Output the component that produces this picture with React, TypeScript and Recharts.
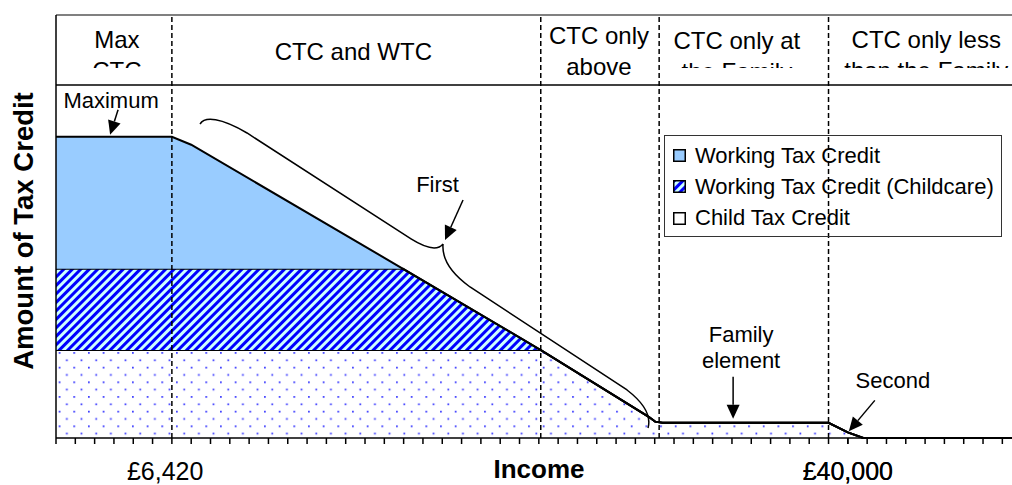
import { Area, AreaChart, Legend, ReferenceArea, ReferenceDot, ReferenceLine, XAxis, YAxis } from "recharts"

// income steps along the x axis (axis tick units) and the three stacked credits
const income = [0, 6, 7, 17.97, 25.1, 30.67, 31.02, 31.4, 40, 41, 41.8, 49.5]
const childTaxCredit = [1.56, 1.56, 1.56, 1.56, 1.56, 0.38, 0.29, 0.27, 0.27, 0.1, 0, 0]
const childcareCredit = [1.44, 1.44, 1.44, 1.44, 0, 0, 0, 0, 0, 0, 0, 0]
const workingTaxCredit = [2.34, 2.34, 2.2, 0, 0, 0, 0, 0, 0, 0, 0, 0]

const phaseBounds = [0, 6, 25.1, 31.23, 40, 49.5]
const phaseLabels = [
  ["Max", "CTC"],
  ["CTC and WTC"],
  ["CTC only", "above"],
  ["CTC only at", "the Family"],
  ["CTC only less", "than the Family"],
]
const xTickMarks = [
  0, 1, 2, 3, 4, 5, 6, 7, 8, 9, 10, 11, 12, 13, 14, 15, 16, 17, 18, 19, 20, 21, 22, 23, 24,
  25, 26, 27, 28, 29, 30, 31, 32, 33, 34, 35, 36, 37, 38, 39, 40, 41, 42, 43, 44, 45, 46, 47, 48, 49,
]
const xTickLabels = [
  { at: 5.65, text: "£6,420" },
  { at: 41, text: "£40,000" },
]
const yTicks = [0, 1, 2, 3, 4, 5, 6, 7]
const legendLabels = ["Working Tax Credit", "Working Tax Credit (Childcare)", "Child Tax Credit"]

const data = income.map((x, i) => ({
  income: x,
  ctc: childTaxCredit[i],
  childcare: childcareCredit[i],
  wtc: workingTaxCredit[i],
}))

const FONT = "'Liberation Sans', Arial, sans-serif"
const HEADER_FLOOR = 6.26

// per-column text placement inside the header strip
const headerLayout = [
  { base: 33, clip: 53, dx: 3 },
  { base: 45, clip: 70, dx: -3 },
  { base: 28.5, clip: 70, dx: -1 },
  { base: 33.5, clip: 53, dx: -7 },
  { base: 33, clip: 53, dx: 6 },
]

function Arrow({ x1, y1, x2, y2 }: { x1: number; y1: number; x2: number; y2: number }) {
  const a = Math.atan2(y2 - y1, x2 - x1)
  const len = 14
  const w = 6.5
  const bx = x2 - len * Math.cos(a)
  const by = y2 - len * Math.sin(a)
  const px = -Math.sin(a) * w
  const py = Math.cos(a) * w
  return (
    <g>
      <line x1={x1} y1={y1} x2={bx} y2={by} stroke="#000" strokeWidth={1.5} />
      <polygon points={`${x2},${y2} ${bx + px},${by + py} ${bx - px},${by - py}`} fill="#000" />
    </g>
  )
}

function Note({ x, y, lines }: { x: number; y: number; lines: string[] }) {
  return (
    <text x={x} y={y} textAnchor="middle" fontSize={22} fontFamily={FONT} fill="#000">
      {lines.map((t, i) => (
        <tspan key={i} x={x} dy={i === 0 ? 0 : 26.5}>
          {t}
        </tspan>
      ))}
    </text>
  )
}

const headerLabel = (i: number) => (props: any) => {
  const vb = props.viewBox
  const l = headerLayout[i]
  const id = `hdr-clip-${i}`
  const cx = vb.x + vb.width / 2 + l.dx
  return (
    <g>
      <defs>
        <clipPath id={id}>
          <rect x={vb.x} y={vb.y} width={vb.width} height={l.clip} />
        </clipPath>
      </defs>
      <text clipPath={`url(#${id})`} textAnchor="middle" fontSize={24} fontFamily={FONT} fill="#000">
        {phaseLabels[i].map((t, j) => (
          <tspan key={j} x={cx} y={vb.y + l.base + j * 31}>
            {t}
          </tspan>
        ))}
      </text>
    </g>
  )
}

function IncomeTick(props: any) {
  const { x, y, payload } = props
  const v = payload.value
  const label = xTickLabels.find((l) => l.at === v)
  return (
    <g>
      {Number.isInteger(v) && <line x1={x} x2={x} y1={y} y2={y + 6} stroke="#000" strokeWidth={1.5} />}
      {label && (
        <text x={x} y={y + 41.5} textAnchor="middle" fontSize={25} fontFamily={FONT} fill="#000">
          {label.text}
        </text>
      )}
    </g>
  )
}

function LegendSwatch({ fill }: { fill: string }) {
  return (
    <svg width={13} height={13} style={{ display: "block", marginRight: 9 }}>
      <rect x={0.75} y={0.75} width={11.5} height={11.5} fill={fill} stroke="#000" strokeWidth={1.5} />
    </svg>
  )
}

function LegendBox() {
  const fills = ["#99ccff", "url(#childcareStripes)", "#ffffff"]
  return (
    <div
      style={{
        boxSizing: "border-box",
        width: 338,
        height: 102,
        border: "1px solid #333",
        padding: "4px 0 0 8px",
        fontFamily: FONT,
        fontSize: 22,
        color: "#000",
      }}
    >
      {legendLabels.map((t, i) => (
        <div key={t} style={{ display: "flex", alignItems: "center", height: 31.3, whiteSpace: "nowrap" }}>
          <LegendSwatch fill={fills[i]} />
          <span>{t}</span>
        </div>
      ))}
    </div>
  )
}

export default function App() {
  return (
    <div style={{ position: "absolute", left: 0, top: 0, width: 1012, height: 485, fontFamily: FONT }}>
      <svg width={0} height={0} style={{ position: "absolute" }}>
        <defs>
          <pattern id="childcareStripes" width={6} height={6} patternUnits="userSpaceOnUse" patternTransform="rotate(45)">
            <rect width={6} height={6} fill="#ccffff" />
            <rect width={3} height={6} fill="#0000ff" />
          </pattern>
          <pattern id="ctcDots" width={14.67} height={14.67} patternUnits="userSpaceOnUse">
            <rect width={14.67} height={14.67} fill="#ffffff" />
            <rect x={0} y={0} width={1.7} height={1.7} fill="#3030ff" />
            <rect x={7.33} y={7.33} width={1.7} height={1.7} fill="#3030ff" />
          </pattern>
        </defs>
      </svg>
      <AreaChart width={1012} height={485} data={data} margin={{ top: 15, right: 0, bottom: 0, left: 0 }}>
        <XAxis
          type="number"
          dataKey="income"
          domain={[0, 49.5]}
          ticks={[...xTickMarks, ...xTickLabels.map((l) => l.at)].sort((a, b) => a - b)}
          interval={0}
          height={47}
          tickSize={0}
          tickMargin={0}
          tickLine={false}
          axisLine={{ stroke: "#000", strokeWidth: 1.5 }}
          tick={IncomeTick}
          label={(p: any) => (
            <text
              x={p.viewBox.x + p.viewBox.width / 2 + 5}
              y={p.viewBox.y + 39.5}
              textAnchor="middle"
              fontSize={26}
              fontWeight="bold"
              fontFamily={FONT}
              fill="#000"
            >
              Income
            </text>
          )}
        />
        <YAxis
          type="number"
          domain={[0, 7.5]}
          ticks={yTicks}
          interval={0}
          width={56}
          tick={false}
          tickSize={6}
          tickLine={{ stroke: "#000", strokeWidth: 1.5 }}
          axisLine={{ stroke: "#000", strokeWidth: 1.5 }}
          label={(p: any) => {
            const cx = 23
            const cy = p.viewBox.y + p.viewBox.height / 2 + 4.5
            return (
              <text
                x={cx}
                y={cy}
                transform={`rotate(-90, ${cx}, ${cy})`}
                textAnchor="middle"
                dominantBaseline="central"
                fontSize={27.5}
                fontWeight="bold"
                fontFamily={FONT}
                fill="#000"
              >
                Amount of Tax Credit
              </text>
            )
          }}
        />
        <Area
          type="linear"
          dataKey="ctc"
          stackId="credit"
          stroke="#000"
          strokeWidth={2}
          fill="url(#ctcDots)"
          fillOpacity={1}
          dot={false}
          activeDot={false}
          isAnimationActive={false}
        />
        <Area
          type="linear"
          dataKey="childcare"
          stackId="credit"
          stroke="#000"
          strokeWidth={2}
          fill="url(#childcareStripes)"
          fillOpacity={1}
          dot={false}
          activeDot={false}
          isAnimationActive={false}
        />
        <Area
          type="linear"
          dataKey="wtc"
          stackId="credit"
          stroke="#000"
          strokeWidth={2}
          fill="#99ccff"
          fillOpacity={1}
          dot={false}
          activeDot={false}
          isAnimationActive={false}
        />
        {phaseLabels.map((_, i) => (
          <ReferenceArea
            key={i}
            x1={phaseBounds[i]}
            x2={phaseBounds[i + 1]}
            y1={HEADER_FLOOR}
            y2={7.5}
            fill="none"
            stroke="none"
            label={headerLabel(i)}
          />
        ))}
        <ReferenceLine y={7.5} stroke="#808080" strokeWidth={2} />
        <ReferenceLine y={HEADER_FLOOR} stroke="#000" strokeWidth={1.5} />
        {phaseBounds.slice(1, -1).map((b) => (
          <ReferenceLine key={b} x={b} stroke="#000" strokeWidth={1.5} strokeDasharray="5 3" />
        ))}
        <ReferenceDot
          x={2.8}
          y={5.34}
          r={0}
          shape={(p: any) => (
            <g>
              <Note x={p.cx + 1} y={p.cy - 29} lines={["Maximum"]} />
              <Arrow x1={p.cx + 8} y1={p.cy - 27} x2={p.cx} y2={p.cy - 2} />
            </g>
          )}
        />
        <ReferenceDot
          x={20.04}
          y={3.44}
          r={0}
          shape={(p: any) => (
            <g transform={`translate(${p.cx}, ${p.cy})`}>
              <path
                d="M -243,-120 C -238,-128 -222,-126 -196,-111 L -32,-5 Q -8,10 0,0 M 0,0 Q -2,22 27,43 L 184,146 Q 210,166 205,184"
                fill="none"
                stroke="#000"
                strokeWidth={1.5}
              />
              <Note x={-5.5} y={-52} lines={["First"]} />
              <Arrow x1={20} y1={-44} x2={2} y2={-4} />
            </g>
          )}
        />
        <ReferenceDot
          x={35.06}
          y={0.27}
          r={0}
          shape={(p: any) => (
            <g>
              <Note x={p.cx + 8} y={p.cy - 81} lines={["Family", "element"]} />
              <Arrow x1={p.cx} y1={p.cy - 46} x2={p.cx} y2={p.cy - 4} />
            </g>
          )}
        />
        <ReferenceDot
          x={41}
          y={0.1}
          r={0}
          shape={(p: any) => (
            <g>
              <Note x={p.cx + 45} y={p.cy - 44} lines={["Second"]} />
              <Arrow x1={p.cx + 27} y1={p.cy - 32} x2={p.cx + 1} y2={p.cy - 1} />
            </g>
          )}
        />
        <Legend
          layout="horizontal"
          verticalAlign="middle"
          align="center"
          wrapperStyle={{ left: 664, top: 135, width: 338, height: 102 }}
          content={() => <LegendBox />}
        />
      </AreaChart>
    </div>
  )
}
